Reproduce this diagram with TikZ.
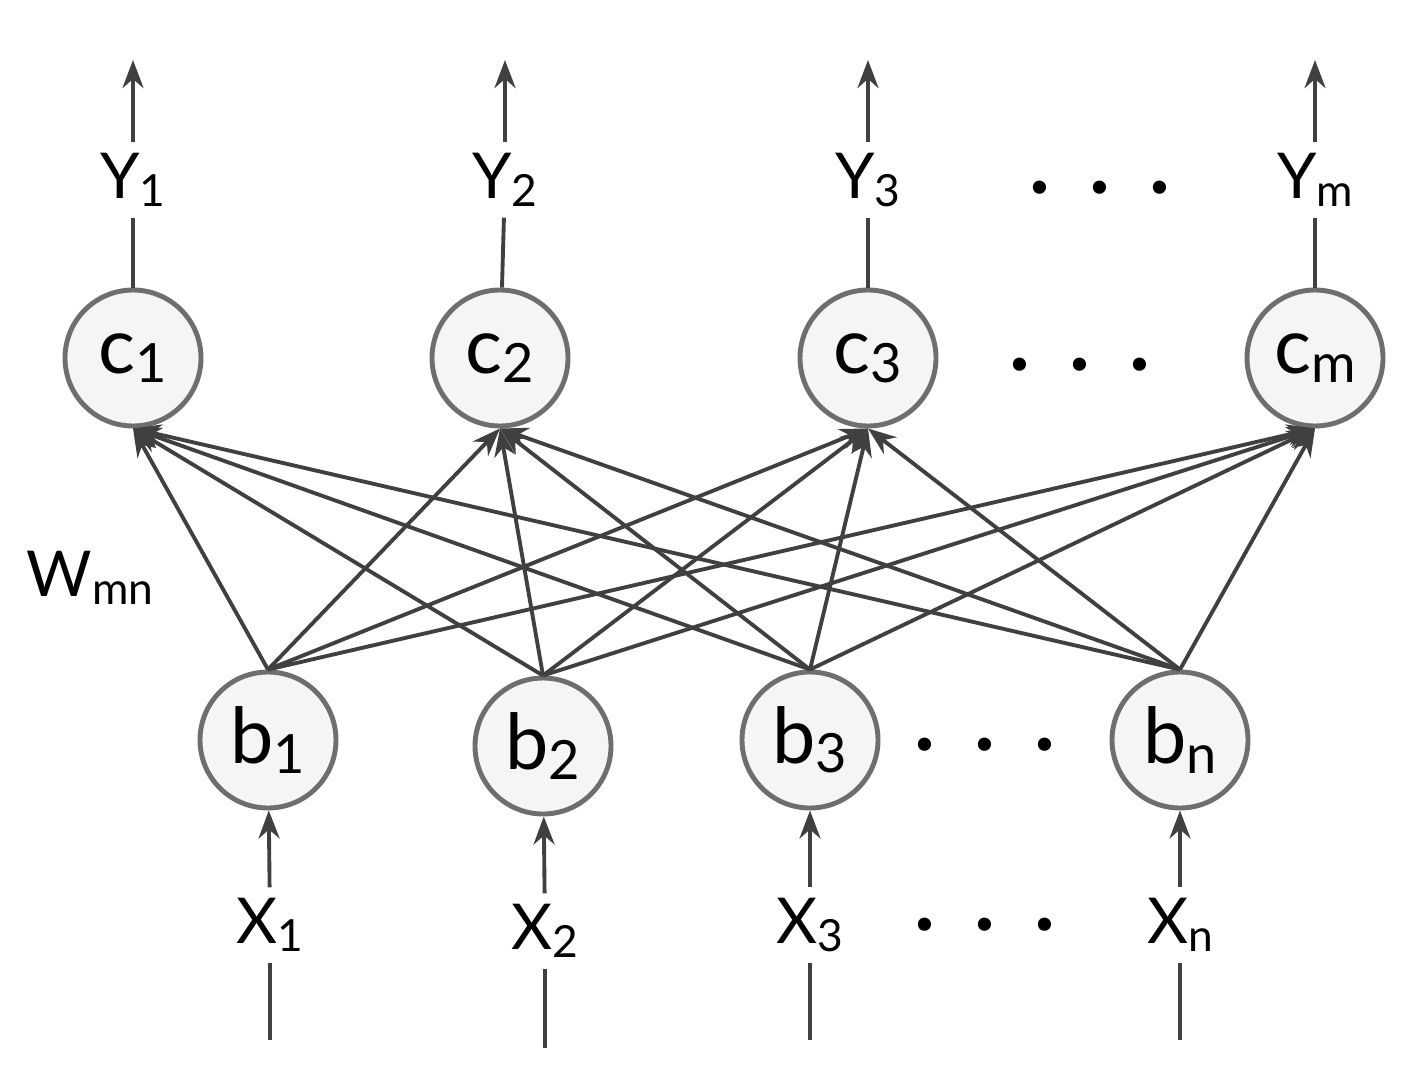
\documentclass[tikz,border=0pt]{standalone}
\usepackage{fontspec}
\setmainfont{Lato}
\usetikzlibrary{arrows.meta}
\definecolor{unitgray}{RGB}{110,110,110}
\definecolor{unitfill}{RGB}{245,245,245}
\newcommand{\idx}[1]{\raisebox{-0.12em}{\scalebox{0.7}{#1}}}
\begin{document}
\begin{tikzpicture}[
    unit/.style={draw=unitgray, line width=1.4pt, circle, fill=unitfill, minimum size=1.36cm, inner sep=0pt, font=\fontsize{22}{22}\selectfont},
    lbl/.style={font=\fontsize{18}{18}\selectfont, inner sep=3pt},
    link/.style={draw=black!75, line width=1.1pt, -{Stealth[length=8pt,width=6pt]}},
    wire/.style={draw=black!75, line width=1.1pt},
    dots/.style={font=\fontsize{30}{30}\selectfont}
]
\useasboundingbox (0,0) rectangle (14.09,10.76);

% hidden units
\node[unit] (c1) at (1.33,7.18) {c\idx{1}};
\node[unit] (c2) at (5.00,7.18) {c\idx{2}};
\node[unit] (c3) at (8.68,7.18) {c\idx{3}};
\node[unit] (cm) at (13.15,7.18) {c\idx{m}};

% input units
\node[unit] (b1) at (2.68,3.36) {b\idx{1}};
\node[unit] (b2) at (5.43,3.30) {b\idx{2}};
\node[unit] (b3) at (8.10,3.36) {b\idx{3}};
\node[unit] (bn) at (11.80,3.36) {b\idx{n}};

% outputs
\node[lbl] (y1) at (1.33,8.96) {Y\idx{1}};
\node[lbl] (y2) at (5.05,8.96) {Y\idx{2}};
\node[lbl] (y3) at (8.68,8.96) {Y\idx{3}};
\node[lbl] (ym) at (13.15,8.96) {Y\idx{m}};
\coordinate (t1) at (1.33,10.16);
\coordinate (t2) at (5.05,10.16);
\coordinate (t3) at (8.68,10.16);
\coordinate (tm) at (13.15,10.16);

% inputs
\node[lbl] (x1) at (2.70,1.51) {X\idx{1}};
\node[lbl] (x2) at (5.45,1.45) {X\idx{2}};
\node[lbl] (x3) at (8.10,1.51) {X\idx{3}};
\node[lbl] (xn) at (11.80,1.51) {X\idx{n}};
\coordinate (u1) at (2.70,0.36);
\coordinate (u2) at (5.45,0.28);
\coordinate (u3) at (8.10,0.36);
\coordinate (un) at (11.80,0.36);

\node[dots] at (11.00,8.88) {.\,\,.\,\,.};
\node[dots] at (10.80,7.11) {.\,\,.\,\,.};
\node[dots] at (9.85,3.31) {.\,\,.\,\,.};
\node[dots] at (9.85,1.51) {.\,\,.\,\,.};

\node[lbl] at (0.90,4.98) {W\idx{mn}};

\foreach \k in {1,2,3,m} {
    \draw[wire] (c\k) -- (y\k);
    \draw[link] (y\k) -- (t\k);
}
\foreach \k in {1,2,3,n} {
    \draw[wire] (u\k) -- (x\k);
    \draw[link] (x\k) -- (b\k);
}

\foreach \i in {1,2,3,n}
  \foreach \j in {1,2,3,m}
    \draw[link] (b\i.north) -- (c\j.south);

\end{tikzpicture}
\end{document}
